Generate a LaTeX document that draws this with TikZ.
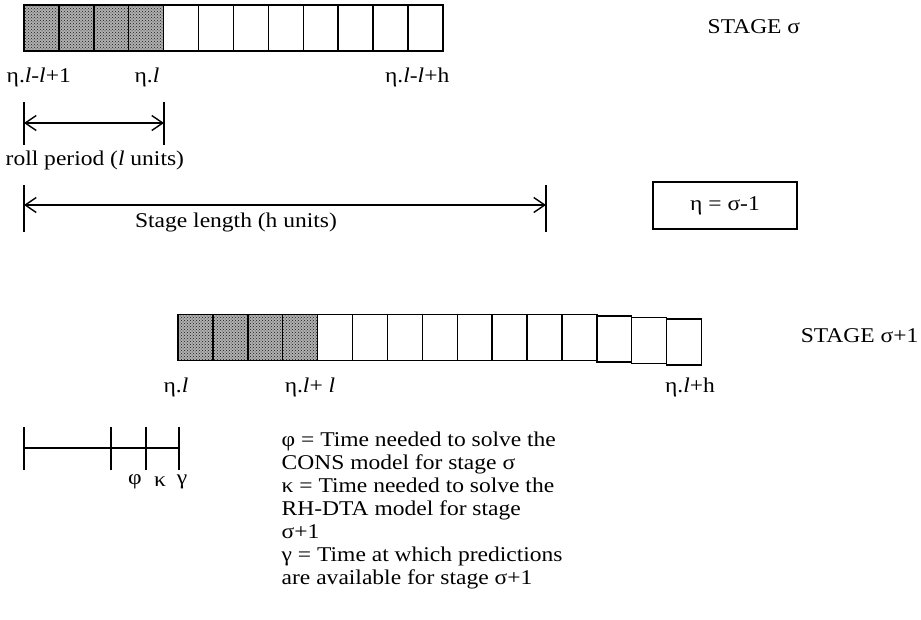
\documentclass[tikz,border=0pt]{standalone}
\usepackage{fontspec}
\setmainfont{Liberation Serif}[FakeStretch=1.12]
\usetikzlibrary{positioning,patterns,arrows.meta}

\begin{document}
\begin{tikzpicture}[x=1pt,y=-1pt,line width=1.4pt,>={Straight Barb[length=11pt,width=15pt]},
  cell/.style={draw,minimum width=34.9pt,minimum height=46pt,inner sep=0pt,outer sep=0pt},
  shaded cell/.style={cell,pattern=crosshatch dots,pattern color=black!90,preaction={fill=gray!62}},
  txt/.style={font=\fontsize{21}{23}\selectfont,inner sep=0pt}]

  \useasboundingbox (0,0) rectangle (921,619);

  % stage sigma
  \node[shaded cell] (a1) at (41.45,28) {};
  \foreach \i [remember=\i as \p (initially 1)] in {2,3,4}
    \node[shaded cell,right=0pt of a\p] (a\i) {};
  \foreach \i [remember=\i as \p (initially 4)] in {5,...,12}
    \node[cell,right=0pt of a\p] (a\i) {};

  \node[txt,anchor=west] (s1) at (6,77) {η.\textit{l}-\textit{l}+1};
  \node[txt] (s2) at (147,77) {η.\textit{l}};
  \node[txt,anchor=east] (s3) at (450,77) {η.\textit{l}-\textit{l}+h};
  \node[txt,anchor=west] (stage1) at (707,27) {STAGE σ};

  % roll period
  \coordinate (rl1) at (24,102); \coordinate (rl2) at (24,145);
  \coordinate (rr1) at (164,102); \coordinate (rr2) at (164,145);
  \coordinate (ra) at (24,123); \coordinate (rb) at (164,123);
  \draw (rl1) -- (rl2);
  \draw (rr1) -- (rr2);
  \draw[<->] (ra) -- (rb);
  \node[txt,anchor=west] (roll) at (5,160) {roll period (\textit{l} units)};

  % stage length
  \coordinate (ll1) at (24,185); \coordinate (ll2) at (24,232);
  \coordinate (lr1) at (546,185); \coordinate (lr2) at (546,232);
  \coordinate (la) at (24,205); \coordinate (lb) at (546,205);
  \draw (ll1) -- (ll2);
  \draw (lr1) -- (lr2);
  \draw[<->] (la) -- (lb);
  \node[txt] (len) at (236,222) {Stage length (h units)};

  \node[txt,draw,line width=1.2pt,minimum width=144pt,minimum height=47pt] (eta) at (725,205.5) {η = σ-1};

  % stage sigma+1
  \node[shaded cell] (b1) at (195.45,337.5) {};
  \foreach \i [remember=\i as \p (initially 1)] in {2,3,4}
    \node[shaded cell,right=0pt of b\p] (b\i) {};
  \foreach \i [remember=\i as \p (initially 4)] in {5,...,12}
    \node[cell,right=0pt of b\p] (b\i) {};
  \foreach \i [remember=\i as \p (initially 12)] in {13,14,15}
    \node[cell,right=0pt of b\p,yshift=-1.5pt] (b\i) {};

  \node[txt] (t1) at (176,387) {η.\textit{l}};
  \node[txt] (t2) at (310,387) {η.\textit{l}+ \textit{l}};
  \node[txt] (t3) at (690,387) {η.\textit{l}+h};
  \node[txt,anchor=east] (stage2) at (919,336) {STAGE σ+1};

  % time line
  \coordinate (p0) at (24,448); \coordinate (p3) at (179,448);
  \foreach \x/\n in {24/0,111/1,146/2,179/3} {
    \coordinate (u\n) at (\x,427);
    \coordinate (d\n) at (\x,470);
    \draw (u\n) -- (d\n);
  }
  \draw (p0) -- (p3);
  \node[txt] (phi) at (135,482) {φ};
  \node[txt] (kap) at (160,482) {κ};
  \node[txt] (gam) at (182,482) {γ};

  \node[txt,align=left,anchor=north west] (legend) at (281,431) {φ = Time needed to solve the\\CONS model for stage σ\\κ = Time needed to solve the\\RH-DTA model for stage\\σ+1\\γ = Time at which predictions\\are available for stage σ+1};
\end{tikzpicture}
\end{document}
